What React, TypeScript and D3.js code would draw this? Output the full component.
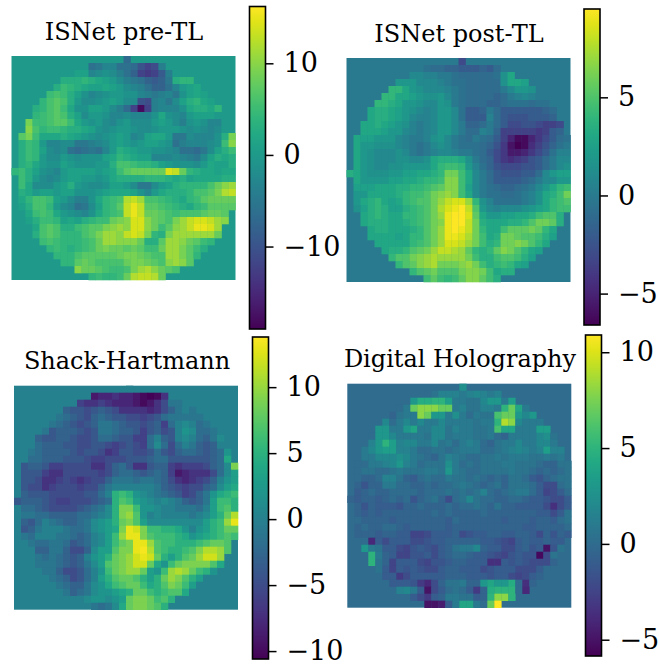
import React, { useEffect, useRef } from "react"
import * as d3 from "d3"

// first column of the circular aperture on each of the 32 rows, everything outside reads 0
const rowStart = [16, 11, 9, 7, 6, 5, 4, 3, 3, 2, 2, 1, 1, 1, 1, 1, 0, 1, 1, 1, 1, 1, 2, 2, 3, 3, 4, 5, 6, 7, 9, 11]

const titles = ["ISNet pre-TL", "ISNet post-TL", "Shack-Hartmann", "Digital Holography"]

const preTl = [
	[-7],
	[-6, -5, -3, -3, -6, -6, -7, -10, -12, -11, -4],
	[1, 1, -3, -2, -1, -2, -4, -6, -8, -12, -13, -12, -9, -4, 0],
	[3, 3, 3, 4, 3, 2, 1, 0, -2, -4, -5, -6, -8, -9, -8, -5, 3, 4, 4],
	[3, 5, 4, 3, 2, 1, 1, 2, 1, 0, -2, -3, -4, -6, -8, -8, -6, -3, 0, 1, 2],
	[5, 6, 5, 3, 1, -1, -3, -2, -1, 0, 0, -1, -1, -3, -4, -5, -4, -3, -5, -1, 1, 2, 1],
	[4, 6, 7, 6, 3, 0, -2, -2, -1, 0, 1, 0, -2, -2, -10, -11, -4, -3, -5, -2, 1, 3, 4, 2, 1],
	[3, 4, 6, 7, 5, 2, -1, -1, 1, 1, 0, -2, -4, -7, -12, -18, -12, -4, -3, -3, -3, -1, 2, 3, 3, 2, 4],
	[4, 5, 6, 7, 6, 3, 1, -2, 0, 0, -1, -3, -3, -2, -3, -3, -3, -1, 2, -1, -2, -3, 0, 1, 1, 1, 0],
	[9, 5, 5, 6, 7, 7, 5, 2, 0, -1, 0, -2, -3, -1, 0, -2, -2, -2, 0, 1, 0, -2, -4, -1, 0, -1, -3, -3, 0],
	[10, 6, 4, 5, 5, 4, 3, 3, 2, 1, -1, -2, -1, 0, 0, -1, -2, -2, -1, 0, 0, 0, -1, -2, -1, -2, -3, -2, 0],
	[7, 9, 5, 2, 2, 2, 3, 2, 1, 0, -1, -2, -1, 0, 1, 0, -3, -2, 1, 2, 2, 0, -5, -5, -2, -3, -3, -3, -1, 3, 9],
	[3, 5, 4, 0, -3, -3, -2, -2, -5, -5, -4, -3, -2, 0, 1, 0, -1, 0, 1, 1, 0, -1, -6, -4, -3, -3, -3, -2, -1, 5, 10],
	[3, 5, 4, 1, -2, -3, -2, -6, -7, -6, -5, -6, -3, 0, 3, 2, 1, 0, 0, -1, -1, -2, -3, -6, -6, -7, -5, -2, 1, 3, 5],
	[3, 5, 4, 0, -2, -2, 0, -1, -2, -1, -1, -1, 1, 2, 4, 3, 2, 1, 1, -3, -3, -3, -2, -3, -4, -5, -2, 1, 3, 2, 3],
	[3, 4, 2, 0, -1, -1, 1, 0, -1, -1, -1, 0, 0, 3, 6, 6, 5, 4, 4, 3, 1, 0, -1, -1, -1, -2, 0, 2, 1, 1, 3],
	[4, 5, 3, 1, -1, -2, -3, 0, 1, 1, 1, 1, 0, 1, 2, 5, 7, 8, 8, 8, 8, 8, 14, 13, 8, 4, 3, 2, 2, 1, 2, 2],
	[5, 3, 0, -2, -3, -2, 0, 1, 1, 0, 0, -1, 0, 2, 3, 3, 3, 3, 4, 4, 4, 3, 2, 3, 1, 2, 2, 2, 2, 3, 3],
	[5, 2, -2, -2, -2, 0, 1, 3, 0, -1, -2, -2, -1, 1, 1, 0, -2, -5, -5, -2, 0, 1, 3, 4, 4, 4, 4, 6, 8, 10, 11],
	[3, 2, 0, 1, 1, 0, 1, 1, -1, -1, -1, 0, 1, 2, 2, 2, 1, -1, -3, 0, 2, 3, 3, 3, 4, 6, 6, 7, 9, 12, 13],
	[2, 4, 6, 6, 5, 1, 0, -2, -4, -4, -1, 2, 4, 5, 6, 12, 13, 11, 6, 6, 5, 4, 3, 2, 4, 5, 7, 8, 8, 8, 8],
	[1, 3, 6, 6, 4, 0, -2, -3, -6, -5, -2, 1, 4, 5, 7, 13, 15, 13, 7, 7, 6, 5, 4, 3, 2, 4, 5, 7, 7, 7, 7],
	[2, 5, 6, 5, 2, 0, -1, -2, -3, -1, 2, 4, 5, 6, 13, 15, 13, 8, 8, 7, 6, 5, 6, 6, 6, 7, 8, 8, 7],
	[1, 3, 5, 5, 4, 1, 2, 1, 3, 4, 5, 5, 8, 9, 10, 14, 14, 10, 8, 7, 6, 9, 11, 13, 14, 14, 13, 11, 10],
	[2, 6, 7, 6, 3, 3, 5, 6, 7, 7, 9, 10, 11, 10, 14, 14, 10, 8, 5, 7, 10, 11, 13, 15, 15, 14, 11],
	[3, 6, 7, 6, 4, 4, 4, 6, 7, 9, 11, 11, 10, 13, 14, 13, 9, 4, 3, 9, 11, 11, 11, 11, 11, 11, 8],
	[5, 6, 5, 4, 4, 4, 5, 6, 8, 11, 11, 10, 10, 10, 8, 3, 3, 7, 11, 11, 10, 8, 7, 5, 4],
	[4, 5, 4, 3, 4, 5, 6, 8, 9, 8, 8, 7, 8, 7, 5, 5, 8, 11, 11, 9, 7, 5, 3],
	[4, 4, 4, 6, 7, 7, 7, 7, 7, 8, 9, 9, 8, 7, 6, 6, 11, 11, 9, 7, 4],
	[4, 4, 7, 8, 7, 6, 6, 6, 6, 8, 9, 9, 8, 7, 6, 10, 11, 10, 7],
	[10, 8, 8, 7, 6, 5, 5, 6, 9, 11, 12, 10, 8, 7, 6],
	[4, 5, 4, 4, 5, 8, 12, 13, 13, 12, 8],
]

const postTl = [
	[-3],
	[-0.5, -1, -1, -1.5, -1.5, -2, -2, -2, -1.5, -2, -1],
	[1, 1, 0.5, 0.5, 0, 0, -0.5, -1, -1, -1, -1, -1, -0.5, 1.5, 3],
	[2, 2, 2, 1, 1, 1, 0.5, 0, -0.5, -0.5, -1, -1, -1, -1, -1, 1.5, 3, 3, 2.5],
	[4, 4, 3, 2, 1.5, 1, 1, 1, 0.5, 0, -0.5, -1, -1, -1, -1, -1, 0, 1, 2, 2, 1.5],
	[4, 4, 3, 3, 2.5, 2, 1.5, 1.5, 2, 1, 0, -0.5, -1, -1, -1, -1, -1.5, -1, 0, 0.5, 1, 0.5, 0],
	[4, 4, 3.5, 3, 2, 2, 1.5, 1, 1, 2, 1.5, 0, -0.5, -1, -1, -1, -1.5, -1.5, -1, -0.5, -0.5, -0.5, -1, -0.5, -0.5],
	[3, 3.5, 3.5, 3, 2.5, 2, 1.5, 1, 0.5, 1, 2, 2, 1, -0.5, -2, -2, -1.5, 0, -1, -2, -2, -2, -2, -2, -2, -1.5, -1],
	[3, 3.5, 3.5, 3, 2.5, 2, 1, 0.5, 0.5, 1, 2, 2, 1, -0.5, -2, -2, -2, 0.5, -1, -2, -2.5, -2.5, -2.5, -2, -2, -2, -1.5],
	[3, 3, 3.5, 3, 2.5, 2, 1.5, 0.5, 0, 0.5, 1, 2, 2, 1, 0, -1.5, -1.5, -1, 0, -1, -2, -3, -3, -2.5, -2.5, -3, -3.5, -3.5, -3],
	[3, 3, 3, 2.5, 2, 2, 1, 0.5, 0, 0.5, 1, 2, 2, 1, 0, -1, -1, 0.5, 0, -1.5, -3.5, -3.5, -3.5, -3.5, -3.5, -4, -3.5, -2, -1.5],
	[3, 2.5, 2.5, 2, 2, 2, 1, 0.5, 0, 0, 0.5, 1.5, 2, 1, 0, -0.5, -1, 0, -0.5, -1, -2, -3.5, -5, -6.2, -6.2, -5, -4, -3, -2, -1, -0.5],
	[3, 2, 2, 1.5, 1.5, 1.5, 1, 0.5, 0, -0.5, 0, 1, 1.5, 1, 0, -0.5, -0.5, -0.5, -1, -1.5, -2.5, -4, -5.8, -6.6, -6.2, -4.5, -3.5, -2.5, -1.5, -0.5, 0],
	[3, 2, 1.5, 1, 1, 1, 1.5, 1, 0, -0.5, 0, 0.5, 1, 1, 0.5, 0, 0, -0.5, -1, -2, -3, -4, -5.5, -5.5, -5, -4, -3, -2, -0.5, 0.5, 0.5],
	[3, 2, 1.5, 1, 1, 1, 1.5, 1.5, 1, 1, 1.5, 3, 3.5, 3.5, 3.5, 3, 1.5, 0, -1, -1.5, -3, -4, -4.5, -4, -3.5, -2.5, -2, -1, 0, 1, 1],
	[3, 2, 1.5, 1, 1, 1.5, 1.5, 2, 2, 2, 2, 3, 4, 4.5, 4.5, 4, 2, 0.5, -0.5, -1.5, -2.5, -3, -3, -3, -2.5, -2.5, -2, -1, 0, 1, 1.5],
	[3.5, 3, 2, 1.5, 1.5, 1.5, 2, 2, 2.5, 2.5, 3, 3, 3.5, 4, 6, 6, 4.5, 3, 1, 0, -1, -2, -2.5, -2.5, -2.5, -2, -2, -1, 1, 2, 2.5, 2.5],
	[3, 2, 2, 2, 2, 2.5, 2.5, 3, 3, 3.5, 4, 4, 4.5, 6.5, 6.5, 4.5, 3, 1, 0, -1, -2, -2, -2, -2, -1.5, -1, 0, 1, 1, 2, 2],
	[2.5, 2.5, 2.5, 3, 3, 3, 3.5, 3.5, 4, 4, 4.5, 5, 5.5, 6.5, 6.5, 4.5, 2.5, 1, 0, -0.5, -1, -1.5, -1.5, -1, -0.5, 0, 1, 2, 3, 4, 4.5],
	[2, 2, 3, 3, 3, 3, 3.5, 4, 4.5, 4.5, 5, 6, 6.5, 7, 6.5, 4.5, 3, 1, 0, -0.5, -0.5, -1, -1, -0.5, 0, 0.5, 1.5, 3, 3.5, 4.5, 6],
	[2, 3, 3.5, 4, 3, 2.5, 3, 4, 4.5, 5, 5, 6, 7, 8, 8.5, 8.5, 7, 4, 1.5, 0.5, -0.5, -0.5, -0.5, -0.5, 0, 0.5, 1.5, 3, 4, 4.5, 5],
	[1.5, 2.5, 3.5, 4, 3.5, 2.5, 2.5, 3.5, 4, 4.5, 5, 6, 7.5, 8.5, 9, 9.5, 8, 5, 2, 1, 0.5, 1, 1, 1, 1.5, 2, 2.5, 3, 4, 4.5, 4.5],
	[3, 3.5, 4, 3.5, 3, 3, 4, 4, 4.5, 5, 6, 7, 9, 9.5, 9.5, 8.5, 5.5, 3, 2, 2, 2.5, 2.5, 3, 3, 3.5, 4.5, 5, 5, 3.5],
	[3, 3.5, 3.5, 3.5, 3, 3, 3.5, 4, 4.5, 5, 6, 6.5, 9, 9.5, 9.5, 8, 6, 3.5, 3, 3, 3, 3.5, 3.5, 4, 5, 6, 6, 5.5, 3.5],
	[3, 3.5, 3.5, 3, 3, 3, 3.5, 4, 5, 6, 7, 9, 9.5, 9, 8, 6, 4, 3, 3, 4.5, 5.5, 5.5, 5.5, 6, 5.5, 4, 3],
	[3, 3, 3, 3, 2.5, 3, 4, 4, 5, 6, 7, 9, 9, 8.5, 7.5, 6, 4.5, 3, 3.5, 6, 6, 5.5, 5, 5, 4.5, 3.5, 2.5],
	[3, 3, 3, 3, 3, 4, 4.5, 5, 6, 7, 8.5, 8.5, 8, 7, 6, 4.5, 3.5, 4, 6, 6, 6.5, 6, 5, 4, 3],
	[3, 3.5, 3.5, 4, 5, 5.5, 6, 7, 8, 8, 7.5, 7, 5.5, 4, 3.5, 4, 5.5, 6.5, 6, 5, 4, 3, 2.5],
	[4, 5, 5, 6, 6.5, 7, 7.5, 7, 7, 7, 7, 6, 4.5, 3.5, 3.5, 4.5, 5, 5, 4.5, 3.5, 2.5],
	[4, 5, 5.5, 6.5, 7, 7.5, 6, 6, 6, 6.5, 7, 6, 4.5, 3.5, 4, 4.5, 4, 3, 2.5],
	[4, 5, 5.5, 6, 5, 5, 5, 6, 6.5, 6.5, 6, 4.5, 3, 3.5, 3.5],
	[4.5, 5.5, 4.5, 4, 4.5, 5.5, 6.5, 6.5, 5.5, 4.5, 3.5],
]

const shackHartmann = [
	[0],
	[-9, -8, -8, -7, -8, -8, -9, -10, -10.5, -10, -7],
	[-6, -7, -7, -6, -7, -8, -8, -8, -9, -10, -9, -7, -5, -1, -1],
	[-3, -4, -4, -5, -4, -3, -4, -5, -7, -7, -7, -7, -8, -7, -5, -3, -1, 0, -1],
	[-1, -2, -3, -4, -5, -3, -2, -3, -4, -4, -5, -5, -6, -5, -4, -2, -1, -1, -1, -1, -1],
	[-1, -2, -3, -4, -5, -4, -3, -1, -1, -2, -3, -4, -4, -5, -4, -3, -6, -2, 0, 1, 0, -2, -1],
	[-1, -4, -3, -3, -3, -4, -5, -4, -1, -1, -2, -3, -3, -4, -6, -4, -3, -5, -4, 0, 2, 1, -2, -2, -1],
	[-3, -4, -4, -3, -3, -4, -5, -5, -4, -2, -2, -3, -4, -4, -6, -6, -2, 0, -3, -4, 0, 1, 0, -2, -3, -1, 1],
	[-2, -3, -3, -3, -4, -4, -5, -5, -4, -4, -5, -6, -5, -4, -5, -6, -2, 1, -2, -5, -2, 0, -1, -3, -4, -3, 0],
	[-1, -2, -3, -3, -3, -3, -4, -5, -4, -4, -5, -7, -6, -4, -4, -5, -5, -4, -2, -4, -5, -3, -2, -2, -3, -4, -3, -2, 2],
	[-2, -2, -3, -3, -3, -4, -4, -4, -5, -6, -6, -5, -5, -5, -4, -4, -4, -3, -2, -2, -4, -4, -4, -4, -4, -4, -3, -2, 4],
	[-4, -3, -3, -4, -6, -6, -5, -5, -5, -5, -7, -7, -5, -3, -2, -4, -7, -7, -4, -3, -3, -6, -7, -6, -6, -6, -5, -3, -2, 1, 9],
	[-4, -4, -4, -6, -7, -7, -5, -5, -5, -5, -5, -6, -5, -3, -2, -2, -3, -4, -3, -2, -3, -6, -9, -8, -7, -7, -7, -5, -2, 1, 3],
	[-4, -4, -5, -7, -7, -6, -5, -6, -7, -6, -5, -5, -3, -1, -1, -1, -2, -1, -1, -2, -3, -5, -7, -8, -7, -6, -5, -3, 0, 2, 3],
	[-4, -5, -5, -7, -6, -5, -5, -5, -6, -5, -5, -3, -1, 0, 0, 0, 0, 0, 0, -1, -3, -4, -5, -6, -5, -5, -3, -2, 1, 3, 4],
	[-3, -4, -4, -4, -5, -5, -5, -5, -5, -4, -4, -2, 0, 5, 6, 5, 2, 1, 0, -1, -2, -3, -4, -6, -5, -3, -1, 2, 4, 5, 6],
	[-4, -3, -3, -3, -4, -5, -6, -6, -5, -5, -5, -4, -3, -2, 5, 7, 6, 3, 2, 1, 0, 1, 0, -1, -3, -4, -3, -1, 3, 6, 6, 5],
	[-2, -2, -3, -4, -5, -5, -5, -5, -4, -3, -2, -1, 1, 5, 9, 9, 6, 2, 2, 1, 0, 0, -1, -1, -1, -2, 0, 3, 6, 7, 5],
	[-1, -1, -2, -2, -3, -3, -3, -3, -2, -2, -1, 0, 1, 5, 9, 10, 7, 2, 0, 1, 0, 0, 0, 0, -1, 0, 1, 3, 5, 8, 11],
	[-3, -4, -2, 0, -1, -2, -3, -3, -2, -1, 1, 2, 3, 5, 8, 9, 7, 3, 1, 1, 1, 1, 1, 1, 1, 1, 3, 5, 6, 10, 13],
	[-4, -3, -1, 0, 0, 0, -1, -2, -2, -1, 1, 2, 3, 4, 9, 13, 12, 9, 6, 6, 5, 5, 4, 2, 0, 2, 3, 5, 6, 8, 8],
	[-1, -2, 0, 0, 0, -1, -1, -2, -3, -2, 0, 1, 3, 6, 10, 13, 13, 9, 7, 6, 6, 6, 5, 4, 2, 3, 4, 5, 6, 7, 6],
	[-1, -2, -2, -1, -1, -2, -4, -3, -2, 0, 1, 3, 6, 8, 9, 13, 13, 10, 7, 6, 6, 5, 5, 5, 6, 7, 8, 8, 7],
	[0, -3, -3, -1, -1, -3, -5, -5, -3, 1, 3, 3, 7, 9, 9, 13, 13.5, 11, 7, 6, 5, 5, 6, 7, 9, 11, 11, 10, 7],
	[-1, -2, -1, -2, -3, -4, -3, 0, 2, 3, 5, 8, 9, 10, 12, 13, 12, 8, 5, 3, 5, 7, 8, 10, 12, 12, 10],
	[-1, -1, -1, -2, -3, -4, -3, -1, 1, 3, 7, 8, 9, 10, 12, 12, 8, 4, 2, 6, 8, 9, 9, 9, 9, 7, 4],
	[-1, -1, -3, -5, -5, -4, -2, 0, 2, 6, 8, 9, 10, 10, 8, 3, 2, 6, 10, 11, 10, 8, 6, 5, 2],
	[-1, -2, -3, -5, -4, -2, 0, 3, 5, 7, 8, 8, 7, 5, 3, 5, 8, 10, 9, 7, 5, 3, 0],
	[-1, -2, -3, -3, -1, 1, 2, 4, 6, 7, 8, 8, 6, 4, 5, 7, 9, 8, 6, 3, 0],
	[-1, -3, -2, -1, 1, 2, 2, 3, 4, 5, 8, 8, 6, 5, 6, 7, 7, 4, 0],
	[0, 1, 2, 2, 1, 2, 3, 8, 9, 9, 8, 6, 7, 5, 0],
	[-1, -2, -1, 1, 4, 8, 9, 9, 8, 7, 5],
]

const holography = [
	[2.5],
	[0, 0.5, 1.5, 1.5, 1.5, 1, 1.5, 2, 1.5, 1, 1.5],
	[3, 4.5, 4.5, 5, 5, 3.5, 1, 1, 0.5, 0.5, 2, 3, 3, 1, 3.5],
	[0, 1, 7, 8, 8, 8, 7, 7, 1, 1.5, 0.5, 0.5, 1.5, 1.5, 1, 5, 7, 4, 1],
	[-0.5, 0.5, 1, 1, 8, 7, 3, 3, 1, 2.5, 1, 0, 1, 0.5, 0.5, 6, 7, 7, 3, 2, 3],
	[2, 0, 1, 2, 1, 2, 1, 1, 2, 1, 1, 1, 1, 0.5, 1, 1, 5, 9, 8, 2, 1, 1, 1],
	[3, 3, 1, 1, 3, 4, 1, 1, 2, 2, 0.5, 1.5, 1, 1, 0.5, 0.5, 1, 6, 4, 4, 1, 1, 1, 3.5, 3.5],
	[0, 3, 3, 2, 1, 1, 1, 1, 0.5, 2, 2, 0.5, 1, 1, 1, 0.5, 0.5, 1, 0, -0.5, 1, 1, 1, 1, 2, 2.5, 0.5],
	[1.5, 3, 5, 3.5, 1.5, 2, 2, 1, 1, 2, 0.5, 1, 0, 1, 1.5, 1, 0, -0.5, 0.5, 1, 1, 2, 1, 1, 2, 2, 1],
	[1, 2, 3, 3.5, 3.5, 1.5, 1.5, 1, 0, 0, 0.5, 0.5, 0, 0.5, 1, 1, 1, 0, 0, 0.5, 1, 1.5, 2, 1.5, 1, 1.5, 3.5, 1.5, 1.5],
	[1, 1, 2, 2, 2, 2.5, 2, 1, 0.5, 0, -0.5, 0.5, 1.5, 1, 0.5, 0, 0, 0.5, 0.5, 1, 0.5, 1, 1, 1, 0.5, 0.5, 1, 0.5, 1],
	[0, 0, 1, 1, 1.5, 2, 3, 1.5, 1, 0, 0.5, 0.5, 0.5, 2.5, 1, 0, 0.5, 0, 0.5, 0.5, 0.5, 1, 1, 0.5, 0.5, 0.5, 0, -0.5, -0.5, 0.5, 0.5],
	[0, 0.5, 0.5, 0, 0, 0.5, 1, 0.5, 0.5, 0.5, 1, 1, 0.5, 3, 1, 0.5, 0, 0, 0.5, 0.5, 0.5, 0.5, 1, 0.5, 0.5, 0, -0.5, 0, -0.5, 0, 0.5],
	[0, -0.5, -0.5, 0, 1.5, 1.5, 0.5, -0.5, -1, 0, 0.5, 0, 0, 1, 0.5, 0.5, 0, 0.5, 0, -0.5, 0, -0.5, 0.5, 0.5, 0, -1, -1.5, -0.5, 0, 0.5, 0.5],
	[-0.5, -1.5, -0.5, -0.5, 1, 1, 0, 0, -0.5, -0.5, 0, -0.5, 0, 0, 0.5, 1, 0.5, 0, -0.5, 0, 0.5, -0.5, 0.5, 0.5, 0.5, 0, -1, -2, -2, 0, 0.5],
	[-1, -0.5, 0, -0.5, -0.5, 0, 0, 0, 0, -0.5, 0, 0, 0, 0.5, 0, 0.5, 0, 0.5, 1.5, 0, -0.5, 0, 0.5, 1, 1, 0, -1, -2.5, -2, -1, 0],
	[-0.5, -1, -0.5, -0.5, -1, -0.5, 0, -0.5, 0, -1.5, -0.5, 0, 0.5, -0.5, -2, 0, 0.5, 2, 0.5, 0, 0, -0.5, -0.5, 0, 0, -0.5, -1, -1, -1.5, -2, -2, -1],
	[-0.5, -1.5, -0.5, -1, -1, -1, -1.5, -0.5, -0.5, 0, -0.5, -0.5, -0.5, 0, -0.5, 0, 0, 0.5, 0, -0.5, 0.5, -0.5, -0.5, -1, -1, -1, -1, -2, -3.5, -2, -1],
	[-0.5, -1, -0.5, -1, -0.5, -0.5, -0.5, -0.5, -0.5, -0.5, -0.5, 0, -0.5, 0, -0.5, -0.5, -0.5, -0.5, 0, -0.5, -0.5, -0.5, -0.5, -0.5, -0.5, -0.5, -1, -1, -2, -1, 0.5],
	[0, -0.5, -0.5, -0.5, -0.5, -1, -0.5, -0.5, -0.5, -0.5, -0.5, -0.5, -0.5, -1, 0, -0.5, -0.5, -0.5, -0.5, -0.5, -0.5, -1, -0.5, -0.5, -0.5, -1, -0.5, -0.5, -1, 0, 0.5],
	[-0.5, 0, -0.5, -0.5, 0, 0, -0.5, -1, -0.5, -0.5, -0.5, -0.5, -0.5, -1, -0.5, -0.5, -0.5, -0.5, -0.5, -0.5, -0.5, -0.5, -0.5, -0.5, -1, -1, -0.5, -0.5, -0.5, -0.5, 0],
	[-0.5, -0.5, -0.5, -1, -0.5, -0.5, -1, -1, -2.5, -2.5, -2, -1, -1, -1, -0.5, -2, -1.5, -1, -1, -0.5, -0.5, -1, -1, -0.5, -0.5, -1, -2, -0.5, -1.5, -0.5, -1],
	[0, -4, -1, -2, -1, -1, -1, -2, -2, -1.5, -1, -1, -0.5, -0.5, -0.5, -0.5, -0.5, -1, -1, -1.5, -2, -2.5, -1, -0.5, -1, -1, -0.5, -1, -1],
	[3, 1, 0.5, -1, -1, -2, -2.5, -1.5, -1, -1.5, -2, -1, -0.5, 0.5, 1, 1, 2, -0.5, -1, -1, -2, -2, -1, -0.5, -1.5, -1, -5, -1.5, 0.5],
	[5, 1, -0.5, -1, -2.5, -2.5, -1.5, -1.5, -1, -2, -1, -0.5, 0, 0, -0.5, -1, -1, -1.5, -2, -2.5, -1.5, -1, -1.5, -1.5, -5.5, -2, 0.5],
	[5, 0.5, -0.5, -2.5, -1, -1, -1, -2, -2.5, -1.5, -1.5, -1, -0.5, -0.5, -1, -1, -1, -3.5, -3.5, -1, -1.5, -1, -1.5, -2, -2, -2, -0.5],
	[0.5, -1, -2.5, -1, -1.5, -1, -1.5, -2, -2, -1, -0.5, -0.5, -1, -1, -1, -2, -1.5, -1, -1, -1, -2, -2, -2, -1, 0],
	[-1, -1, -3, -2, -1, -1, -1, -1, -1, -0.5, -0.5, -0.5, -1, -1, -1, -1.5, -1, -1, -2, -2.5, -2, -1, -0.5],
	[-1, -1, -1, -1.5, -3, -4, -2, -0.5, 0.5, 0.5, 1, -0.5, -0.5, 3, 4, 3, 3, 4.5, 0, -3.5, -0.5],
	[1.5, 2, 1, -1, -5, -2, -1, 0, 0.5, 0, -1, -3, -0.5, 4.5, 5, 5, 5, 0, -4],
	[-1, -2, -3, -1, -0.5, 1, 1, 0.5, 0.5, -1, -0.5, 5, 8, 8, 5],
	[-5, -5, -4.5, -1, 1, 4, 4, 1, 0, 7, 11],
]

const grids = [preTl, postTl, shackHartmann, holography]
const colorRanges = [
	[-19, 16.2],
	[-6.6, 9.5],
	[-10.6, 13.8],
	[-5.85, 10.9],
]
const tickValues = [
	[-10, 0, 10],
	[-5, 0, 5],
	[-10, -5, 0, 5, 10],
	[-5, 0, 5, 10],
]

// pixel boxes: image x/y, colorbar x/top/bottom, title centre
const layout = [
	{ ix: 11.5, iy: 56, bx: 249.5, bTop: 6.5, bBot: 329, tx: 124, ty: 40 },
	{ ix: 346.5, iy: 58, bx: 584, bTop: 9, bBot: 325, tx: 459, ty: 42 },
	{ ix: 14, iy: 385.7, bx: 252.5, bTop: 337, bBot: 659, tx: 127, ty: 369 },
	{ ix: 347.3, iy: 383.7, bx: 585.5, bTop: 335, bBot: 656, tx: 460, ty: 367 },
]

const imgSize = 224
const barWidth = 16

const App = () => {
	const svgRef = useRef<SVGSVGElement>(null)

	useEffect(() => {
		const svg = d3.select(svgRef.current)
		svg.selectAll("*").remove()

		grids.forEach((rows, p) => {
			const box = layout[p]
			const color = d3.scaleSequential(d3.interpolateViridis).domain(colorRanges[p])
			const cols = d3.range(32)
			const x = d3.scaleBand<number>().domain(cols).range([box.ix, box.ix + imgSize])
			const y = d3.scaleBand<number>().domain(cols).range([box.iy, box.iy + imgSize])
			const g = svg.append("g")

			// outside the aperture the phase is 0
			g.append("rect")
				.attr("x", box.ix)
				.attr("y", box.iy)
				.attr("width", imgSize)
				.attr("height", imgSize)
				.attr("fill", color(0))

			rows.forEach((row, r) => {
				g.selectAll(null)
					.data(row)
					.enter()
					.append("rect")
					.attr("x", (d, i) => x(rowStart[r] + i))
					.attr("y", y(r))
					.attr("width", x.bandwidth() + 0.3)
					.attr("height", y.bandwidth() + 0.3)
					.attr("fill", d => color(d))
			})

			g.append("text")
				.attr("x", box.tx)
				.attr("y", box.ty)
				.attr("text-anchor", "middle")
				.attr("font-family", "DejaVu Serif")
				.attr("font-size", 24)
				.attr("fill", "#000")
				.text(titles[p])

			// colorbar
			const bar = d3.scaleLinear().domain(colorRanges[p]).range([box.bBot, box.bTop])
			const gradId = "grad" + p
			const grad = svg
				.append("defs")
				.append("linearGradient")
				.attr("id", gradId)
				.attr("x1", 0)
				.attr("x2", 0)
				.attr("y1", 1)
				.attr("y2", 0)
			d3.range(0, 1.0001, 0.05).forEach(t => {
				grad
					.append("stop")
					.attr("offset", t)
					.attr("stop-color", d3.interpolateViridis(t))
			})
			g.append("rect")
				.attr("x", box.bx)
				.attr("y", box.bTop)
				.attr("width", barWidth)
				.attr("height", box.bBot - box.bTop)
				.attr("fill", `url(#${gradId})`)
				.attr("stroke", "#000")
				.attr("stroke-width", 1.6)

			const axis = d3
				.axisRight(bar)
				.tickValues(tickValues[p])
				.tickFormat(d3.format("d"))
				.tickSize(8)
				.tickPadding(10)
			const ax = g.append("g").attr("transform", `translate(${box.bx + barWidth},0)`).call(axis)
			ax.select(".domain").remove()
			ax.selectAll("line").attr("stroke", "#000").attr("stroke-width", 1.5)
			ax.selectAll("text").attr("font-family", "DejaVu Serif").attr("font-size", 27).attr("fill", "#000")
		})
	}, [])

	return <svg ref={svgRef} width={659} height={664} style={{ position: "absolute", left: 0, top: 0, background: "#fff" }} />
}

export default App
